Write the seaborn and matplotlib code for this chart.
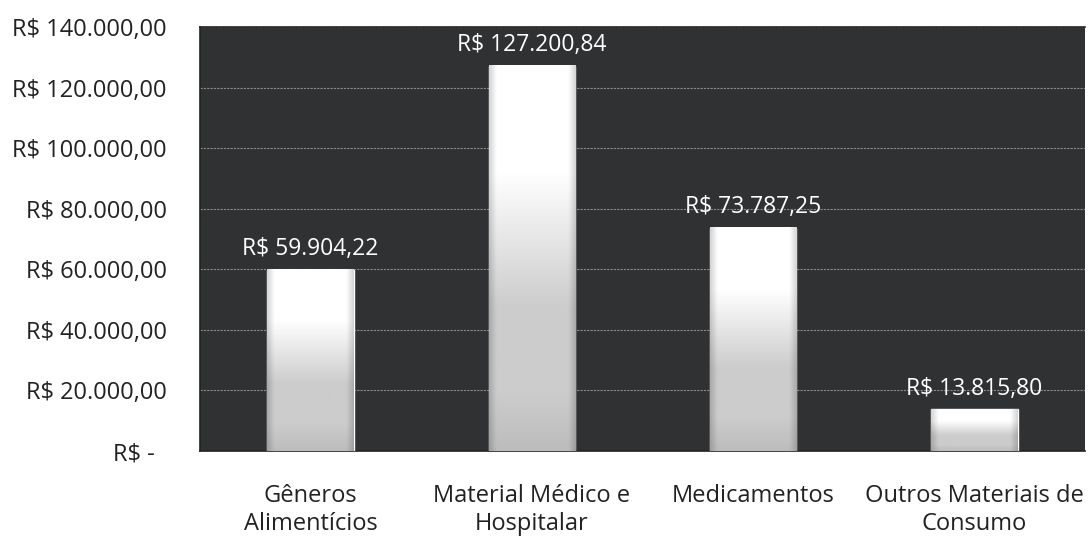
import numpy as np
import matplotlib
matplotlib.use("Agg")
import matplotlib.pyplot as plt
import seaborn as sns
from matplotlib.ticker import FuncFormatter, MultipleLocator, FixedLocator

# data
categories = ["Gêneros\nAlimentícios", "Material Médico e\nHospitalar",
              "Medicamentos", "Outros Materiais de\nConsumo"]
values = [59904.22, 127200.84, 73787.25, 13815.80]


def brl(v):
    s = f"{v:,.2f}"
    return "R$ " + s.replace(",", "X").replace(".", ",").replace("X", ".")


def brl_tick(v, pos):
    if abs(v) < 1e-6:
        return "R$ -  "
    return brl(v)


sns.set_style("white")
plt.rcParams["font.family"] = ["Open Sans", "DejaVu Sans"]

fig = plt.figure(figsize=(10.88, 5.36), dpi=100)
ax = fig.add_axes([200 / 1088, 85 / 536, (1085 - 200) / 1088, (451 - 27) / 536])
ax.set_facecolor("#303132")

sns.barplot(x=categories, y=values, color="#d8d8d8", width=0.39,
            saturation=1, ax=ax, zorder=3)

# gradient fill for bars
ny, nx = 200, 60
yy = np.linspace(0, 1, ny)[:, None]   # 0 top .. 1 bottom
xx = np.linspace(0, 1, nx)[None, :]
vert = np.where(yy < 0.28, 1.0, 1.0 - 0.2 * np.clip((yy - 0.28) / 0.35, 0, 1))
vert = vert - 0.06 * np.clip((yy - 0.85) / 0.15, 0, 1)
edge = 1.0 - 0.16 * (np.clip(1 - xx / 0.08, 0, 1) + np.clip(1 - (1 - xx) / 0.08, 0, 1))
shade = np.clip(vert * edge, 0, 1)
img = np.dstack([shade, shade, shade])

for p, v in zip(ax.patches, values):
    x0, w = p.get_x(), p.get_width()
    ax.imshow(img, extent=[x0, x0 + w, 0, p.get_height()], aspect="auto",
              zorder=4, interpolation="bilinear")
    ax.annotate(brl(v), (x0 + w / 2, v), xytext=(0, 6), textcoords="offset points",
                ha="center", va="bottom", color="white", fontsize=16.5, zorder=5)

ax.set_xlim(-0.5, 3.5)
ax.set_ylim(0, 140000)
ax.yaxis.set_major_locator(MultipleLocator(20000))
ax.yaxis.set_major_formatter(FuncFormatter(brl_tick))
ax.grid(axis="y", color="#8a8a8a", linewidth=0.8, linestyle=(0, (2, 1)), zorder=1)
ax.set_axisbelow(True)

ax.xaxis.set_minor_locator(FixedLocator([-0.5, 0.5, 1.5, 2.5]))
ax.tick_params(axis="x", which="major", length=0, labelsize=17, pad=24, labelcolor="#222222")
ax.tick_params(axis="x", which="minor", length=8, width=1, color="#333333", direction="out")
ax.tick_params(axis="y", length=6, width=1, color="#333333", direction="out",
               labelsize=17, pad=18, labelcolor="#222222")
for lbl in ax.get_xticklabels():
    lbl.set_multialignment("center")

for side in ["left", "bottom", "top"]:
    ax.spines[side].set_visible(True)
    ax.spines[side].set_color("#222222")
    ax.spines[side].set_linewidth(1.2)
ax.spines["right"].set_visible(False)
ax.set_xlabel("")
ax.set_ylabel("")

fig.savefig("out.png", dpi=100)
